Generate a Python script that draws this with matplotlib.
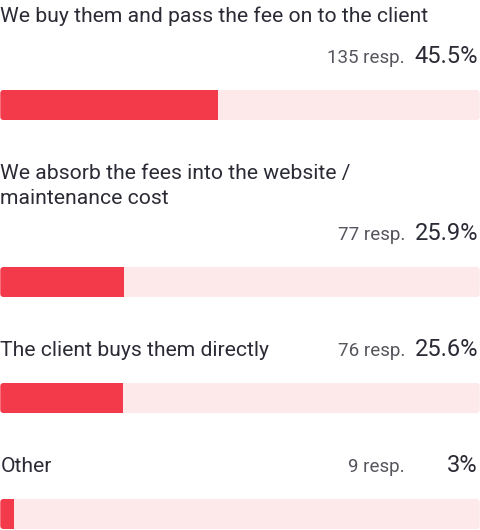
import matplotlib.pyplot as plt
from matplotlib.patches import FancyBboxPatch

# data
labels = [
    "We buy them and pass the fee on to the client",
    "We absorb the fees into the website /\nmaintenance cost",
    "The client buys them directly",
    "Other",
]
counts = [135, 77, 76, 9]
percents = [45.5, 25.9, 25.6, 3]
pct_labels = ["45.5%", "25.9%", "25.6%", "3%"]

RED = "#F23A4B"
PINK = "#FDE8EA"
DARK = "#2B2B36"
GREY = "#55555E"

plt.rcParams['font.family'] = ['Roboto', 'DejaVu Sans']

fig = plt.figure(figsize=(4.8, 5.3), dpi=100)
ax = fig.add_axes([0, 0, 1, 1])
ax.set_xlim(0, 100)
ax.set_ylim(530, 0)
ax.axis('off')

px = 100 / 480  # one pixel in x data units
line_h = 25
bar_h = 30

y = 22  # baseline of first label
for lab, n, p, ps in zip(labels, counts, percents, pct_labels):
    lines = lab.split("\n")
    for i, ln in enumerate(lines):
        ax.text(0.3 * px, y + i * line_h, ln, fontsize=15.2, color=DARK,
                ha='left', va='baseline')
    if len(lines) == 1 and p < 30:
        rb = y  # resp on same line as the label
    elif len(lines) == 1:
        rb = y + 41
    else:
        rb = y + line_h + 36
    ax.text(405 * px, rb, f"{n} resp.", fontsize=13.5, color=GREY,
            ha='right', va='baseline')
    ax.text(478 * px, rb, ps, fontsize=17, color=DARK,
            ha='right', va='baseline')

    top = rb + 27
    bg = FancyBboxPatch((0.3 * px, top), 100 - 0.6 * px, bar_h,
                        boxstyle="round,pad=0,rounding_size=0.7",
                        mutation_aspect=4.8, fc=PINK, ec='none')
    ax.add_patch(bg)
    bars = ax.barh([top + bar_h / 2], [p], height=bar_h, left=0,
                   color=RED, edgecolor='none')
    for b in bars:
        b.set_clip_path(bg)
    y = top + bar_h + 59

fig.savefig("out.png", dpi=100)
